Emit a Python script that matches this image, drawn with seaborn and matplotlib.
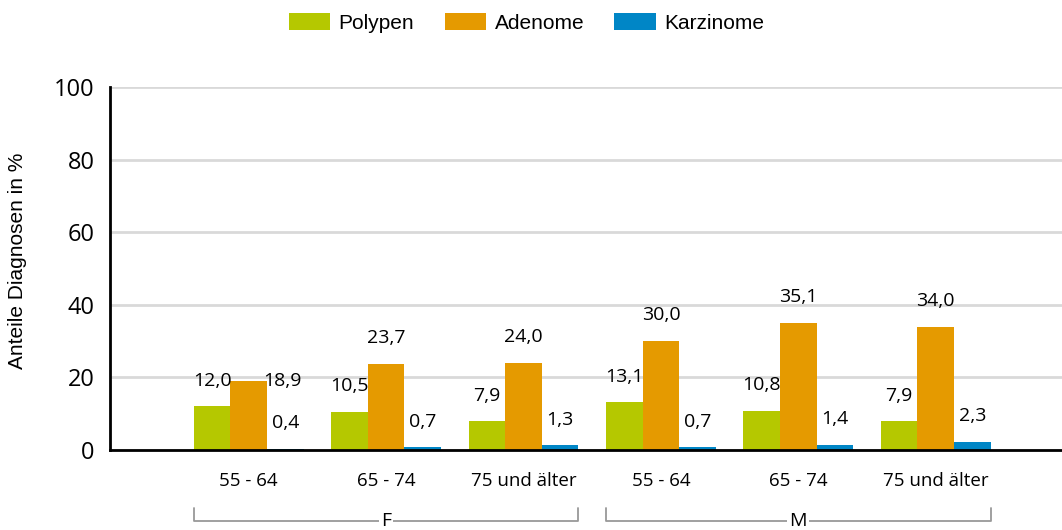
import matplotlib
matplotlib.use("Agg")
import matplotlib.pyplot as plt
import numpy as np
import pandas as pd
import seaborn as sns

# data
groups = ["F", "F", "F", "M", "M", "M"]
ages = ["55 - 64", "65 - 74", "75 und älter", "55 - 64", "65 - 74", "75 und älter"]
polypen = [12.0, 10.5, 7.9, 13.1, 10.8, 7.9]
adenome = [18.9, 23.7, 24.0, 30.0, 35.1, 34.0]
karzinome = [0.4, 0.7, 1.3, 0.7, 1.4, 2.3]
series = ["Polypen", "Adenome", "Karzinome"]
colors = ["#b5c800", "#e59a00", "#0086c6"]

keys = [f"{g} {a}" for g, a in zip(groups, ages)]
df = pd.DataFrame({"key": keys, "Polypen": polypen, "Adenome": adenome, "Karzinome": karzinome})
long_df = df.melt(id_vars="key", var_name="Diagnose", value_name="Anteil")

sns.set_style("white")
plt.rcParams["font.family"] = ["Open Sans", "DejaVu Sans"]
plt.rcParams["text.color"] = "black"
plt.rcParams["xtick.labelcolor"] = "black"
plt.rcParams["ytick.labelcolor"] = "black"

fig = plt.figure(figsize=(10.62, 5.30), dpi=100)
ax = fig.add_axes([0.1036, 0.151, 0.8964, 0.6849])

sns.barplot(
    data=long_df, x="key", y="Anteil", hue="Diagnose",
    order=keys, hue_order=series, palette=colors,
    width=0.8, saturation=1, linewidth=0, ax=ax, legend=True,
)

ax.set_ylim(0, 100)
ax.set_xlim(-1.01, 5.92)
ax.set_yticks(np.arange(0, 101, 20))
ax.yaxis.grid(True, color="#d9d9d9", linewidth=2)
ax.set_axisbelow(True)
ax.tick_params(axis="y", length=7, width=1, color="#808080", pad=4, labelsize=17)
ax.set_xticks([-1] + list(range(len(keys))))
ax.set_xticklabels([""] + ages)
ax.tick_params(axis="x", length=5, width=1, color="#808080", pad=11, labelsize=13.5)
ax.set_xlabel("")
ax.set_ylabel("Anteile Diagnosen in %", family=["Liberation Sans"], fontsize=15,
              color="black")
ax.yaxis.set_label_coords(-0.087, 0.52)
for side in ["top", "right"]:
    ax.spines[side].set_visible(False)
for side in ["left", "bottom"]:
    ax.spines[side].set_color("black")
    ax.spines[side].set_linewidth(2)

# value labels above bars (one label shifted sideways like in the source)
shifted = {(0, 1): (24, 0)}
for j, cont in enumerate(ax.containers):
    for i, bar in enumerate(cont):
        val = bar.get_height()
        dx, dy = shifted.get((i, j), (0, 18.5))
        ax.annotate(
            f"{val:.1f}".replace(".", ","),
            (bar.get_x() + bar.get_width() / 2, val),
            xytext=(dx, dy), textcoords="offset points",
            ha="center", va="center", fontsize=14,
        )

# group brackets below age labels
trans = ax.get_xaxis_transform()
for name, (start, end) in {"F": (0, 2), "M": (3, 5)}.items():
    x0, x1 = start - 0.4, end + 0.4
    ax.plot([x0, x0, x1, x1], [-0.16, -0.196, -0.196, -0.16], transform=trans,
            color="#999999", linewidth=1.3, clip_on=False)
    ax.text((start + end) / 2, -0.196, name, transform=trans, ha="center", va="center",
            fontsize=14, bbox=dict(facecolor="white", edgecolor="none", pad=1.5))

handles, labels = ax.get_legend_handles_labels()
ax.legend_.remove()
fig.legend(handles, labels, loc="center", bbox_to_anchor=(0.4958, 0.957), ncol=3,
           frameon=False, prop={"family": "Liberation Sans", "size": 15},
           handlelength=2.0, handleheight=0.9, columnspacing=1.45, handletextpad=0.4)

fig.savefig("out.png", dpi=100)
